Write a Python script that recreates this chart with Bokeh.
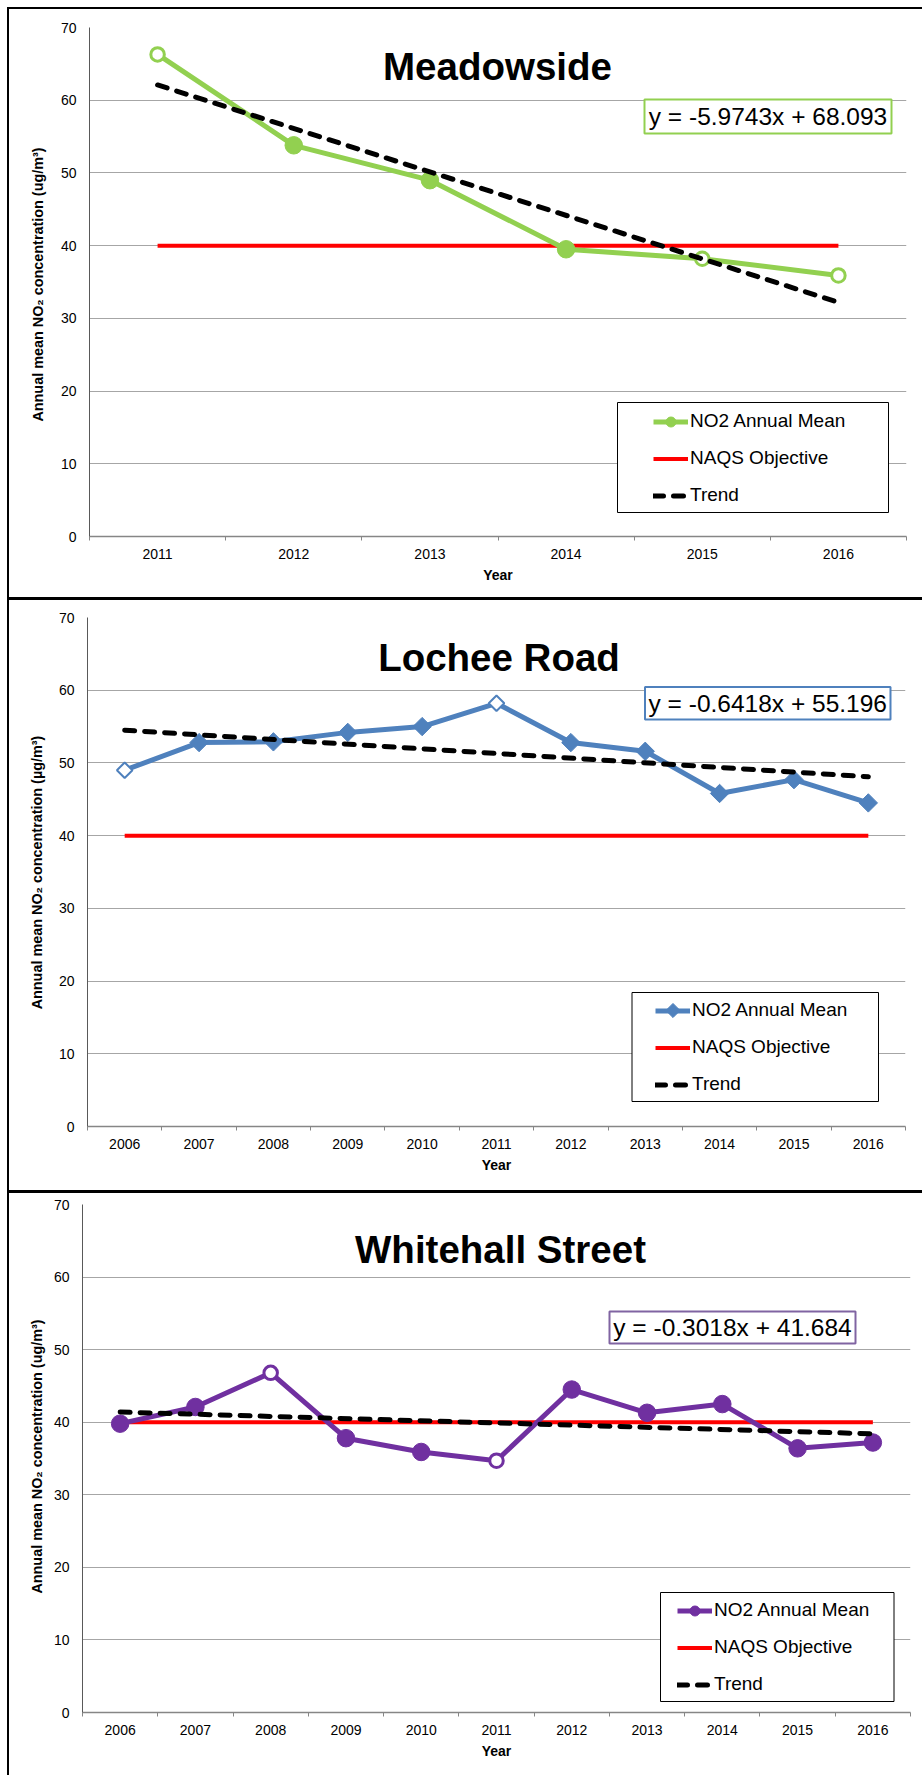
import math
from bokeh.plotting import figure
from bokeh.models import (Range1d, FixedTicker, Label, BoxAnnotation, Legend,
                          LegendItem, Div)
from bokeh.layouts import column, row
from bokeh.embed import file_html
from bokeh.resources import INLINE

FONT = "Liberation Sans"

# ---------------- data ----------------
y_ticks = [0, 10, 20, 30, 40, 50, 60, 70]
naqs_objective = 40

meadowside_years = ["2011", "2012", "2013", "2014", "2015", "2016"]
meadowside_no2 = [66.3, 53.8, 49.0, 39.5, 38.2, 35.9]
meadowside_hollow = [True, False, False, False, True, True]
meadowside_trend = [62.1, 32.2]          # trend value at first / last year
meadowside_eq = "y = -5.9743x + 68.093"

lochee_years = ["2006", "2007", "2008", "2009", "2010", "2011",
                "2012", "2013", "2014", "2015", "2016"]
lochee_no2 = [49.0, 52.8, 52.9, 54.2, 55.0, 58.2, 52.8, 51.6, 45.8, 47.7, 44.5]
lochee_hollow = [True, False, False, False, False, True,
                 False, False, False, False, False]
lochee_trend = [54.5, 48.1]
lochee_eq = "y = -0.6418x + 55.196"

whitehall_years = ["2006", "2007", "2008", "2009", "2010", "2011",
                   "2012", "2013", "2014", "2015", "2016"]
whitehall_no2 = [39.8, 42.1, 46.8, 37.8, 35.9, 34.7, 44.5, 41.3, 42.5, 36.4, 37.2]
whitehall_hollow = [False, False, True, False, False, True,
                    False, False, False, False, False]
whitehall_trend = [41.4, 38.4]
whitehall_eq = "y = -0.3018x + 41.684"

TOTAL_W = 913
CLEFT = 9      # page x of the left edge of the panels
STRIP = 40     # width of the strip carrying the rotated y-axis title
W = TOTAL_W - STRIP
MLEFT = CLEFT + STRIP   # page x of the main figure's left edge


def make_strip(ylabel, cfg):
    # the strip's frame is aligned with the main plot's frame inside the row,
    # so its y range is expressed in page pixels of that frame (top..bottom)
    H = cfg["height"]
    fl, fr, ft, fb = cfg["frame"]
    s = figure(width=STRIP, height=H, x_range=Range1d(CLEFT, CLEFT + STRIP),
               y_range=Range1d(fb, ft), x_axis_type=None, y_axis_type=None,
               min_border=0, toolbar_location=None, output_backend="svg")
    s.outline_line_color = None
    s.background_fill_color = "white"
    s.border_fill_color = "white"
    yx, yc = cfg["ylabel_center"]
    s.add_layout(Label(x=yx, y=yc, text=ylabel,
                       angle=math.pi / 2, text_font=FONT, text_font_style="bold",
                       text_font_size="14.4px", text_align="center",
                       text_baseline="middle", text_color="black"))
    return s


def make_panel(title, years, no2, hollow, trend, eq, color, eq_color, marker, cfg):
    n = len(years)
    xs = list(range(1, n + 1))
    fl, fr, ft, fb = cfg["frame"]
    ctop = cfg["canvas_top"]
    H = cfg["height"]
    p = figure(width=W, height=H, x_range=Range1d(0.5, n + 0.5),
               y_range=Range1d(0, 70), output_backend="svg",
               toolbar_location=None,
               min_border_left=int(round(fl - MLEFT)),
               min_border_right=int(round(W - (fr - MLEFT))),
               min_border_top=int(round(ft - ctop)),
               min_border_bottom=int(round(H - (fb - ctop))))
    p.outline_line_color = None
    p.background_fill_color = "white"
    p.border_fill_color = "white"

    def dx(px):
        return 0.5 + (px - fl) / (fr - fl) * n

    def dy(py):
        return (fb - py) / (fb - ft) * 70

    # axes
    xa = p.xaxis[0]
    xa.ticker = FixedTicker(ticks=xs, minor_ticks=[i + 0.5 for i in range(0, n + 1)])
    xa.major_label_overrides = {x: yv for x, yv in zip(xs, years)}
    xa.major_tick_out = 0
    xa.major_tick_in = 0
    xa.minor_tick_out = 4
    xa.minor_tick_in = 0
    xa.minor_tick_line_color = "#868686"
    xa.axis_line_color = "#868686"
    xa.axis_line_width = 1.5
    xa.major_label_text_font = FONT
    xa.major_label_text_font_size = "14px"
    xa.major_label_text_color = "black"
    xa.major_label_standoff = 8
    xa.axis_label = "Year"
    xa.axis_label_text_font = FONT
    xa.axis_label_text_font_style = "bold"
    xa.axis_label_text_font_size = "14px"
    xa.axis_label_text_color = "black"
    xa.axis_label_standoff = 5

    ya = p.yaxis[0]
    ya.ticker = FixedTicker(ticks=y_ticks)
    ya.major_tick_out = 0
    ya.major_tick_in = 0
    ya.minor_tick_out = 0
    ya.minor_tick_in = 0
    ya.axis_line_color = "#595959"
    ya.axis_line_width = 1
    ya.major_label_text_font = FONT
    ya.major_label_text_font_size = "14px"
    ya.major_label_text_color = "black"
    ya.major_label_standoff = 13

    p.xgrid.visible = False
    p.ygrid.ticker = FixedTicker(ticks=y_ticks)
    p.ygrid.grid_line_color = "#A6A6A6"
    p.ygrid.grid_line_width = 1

    # NAQS objective
    red_r = p.line([xs[0], xs[-1]], [naqs_objective, naqs_objective],
                   line_color="#FF0000", line_width=4)
    # NO2 series
    line_r = p.line(xs, no2, line_color=color, line_width=5)
    fx = [x for x, h in zip(xs, hollow) if not h]
    fy = [v for v, h in zip(no2, hollow) if not h]
    hx = [x for x, h in zip(xs, hollow) if h]
    hy = [v for v, h in zip(no2, hollow) if h]
    if marker == "circle":
        filled_r = p.scatter(fx, fy, marker="circle", size=17.5, fill_color=color,
                             line_color=color, line_width=1)
        p.scatter(hx, hy, marker="circle", size=13.5, fill_color="white",
                  line_color=color, line_width=3)
    else:
        filled_r = p.scatter(fx, fy, marker="square", angle=math.pi / 4, size=13,
                             fill_color=color, line_color=color, line_width=1)
        p.scatter(hx, hy, marker="square", angle=math.pi / 4, size=11,
                  fill_color="white", line_color=color, line_width=2)
    # trend
    trend_r = p.line([xs[0], xs[-1]], trend, line_color="black", line_width=5,
                     line_dash="10 10", line_cap="round")

    # title
    tx, tb = cfg["title"]
    p.add_layout(Label(x=dx(tx), y=dy(tb), text=title, text_font=FONT,
                       text_font_style="bold", text_font_size="38.5px",
                       text_align="center", text_baseline="alphabetic",
                       text_color="black"))

    # equation box
    el, er, et, eb = cfg["eq_box"]
    p.add_layout(BoxAnnotation(left=dx(el), right=dx(er), top=dy(et), bottom=dy(eb),
                               fill_color="white", fill_alpha=1,
                               line_color=eq_color, line_alpha=1, line_width=2))
    p.add_layout(Label(x=dx((el + er) / 2), y=dy((et + eb) / 2), text=eq,
                       text_font=FONT, text_font_size="24.5px",
                       text_align="center", text_baseline="middle",
                       text_color="black"))

    # legend box
    ll, lr, lt, lb = cfg["leg_box"]
    p.add_layout(BoxAnnotation(left=dx(ll), right=dx(lr), top=dy(lt), bottom=dy(lb),
                               fill_color="white", fill_alpha=1,
                               line_color="black", line_alpha=1, line_width=1))
    row_h, spacing, gw = 25, 12, 35
    leg_h = 3 * row_h + 2 * spacing
    leg_top = cfg["leg_row1"] - row_h / 2
    lx = cfg["leg_glyph_x"] - fl
    ly = fb - (leg_top + leg_h)
    first_renderers = [line_r, filled_r] if marker == "circle" else [line_r]
    legend = Legend(items=[
        LegendItem(label="NO2 Annual Mean", renderers=first_renderers),
        LegendItem(label="NAQS Objective", renderers=[red_r]),
        LegendItem(label="Trend", renderers=[trend_r]),
    ], location=(lx, ly), orientation="vertical", padding=0, margin=0,
        spacing=spacing, glyph_width=gw, glyph_height=row_h, label_height=row_h,
        label_standoff=2, label_text_font=FONT, label_text_font_size="19px",
        label_text_color="black", border_line_alpha=0, background_fill_alpha=0)
    p.add_layout(legend)
    if marker != "circle":
        # diamond legend symbol (legend glyphs ignore marker rotation)
        p.scatter([dx(cfg["leg_glyph_x"] + gw / 2)], [dy(cfg["leg_row1"])],
                  marker="square", angle=math.pi / 4, size=10, fill_color=color,
                  line_color=color, line_width=1, level="overlay")
    return p


cfg1 = dict(canvas_top=9, height=588, frame=(89, 906, 27, 536),
            title=(497, 66), eq_box=(644, 891, 99, 133),
            leg_box=(617, 888, 402, 512), leg_glyph_x=653, leg_row1=421,
            ylabel_center=(37, 284))
cfg2 = dict(canvas_top=600, height=590, frame=(87, 905, 617, 1126),
            title=(498.5, 657), eq_box=(644.5, 890, 686.5, 719),
            leg_box=(631.5, 878, 992, 1101), leg_glyph_x=655, leg_row1=1010,
            ylabel_center=(36.5, 872))
cfg3 = dict(canvas_top=1193, height=582, frame=(82, 910, 1204, 1712),
            title=(500, 1249), eq_box=(609, 855, 1311, 1343),
            leg_box=(660, 893.5, 1592, 1701), leg_glyph_x=677, leg_row1=1610,
            ylabel_center=(36.5, 1456))

label_ug = "Annual mean NO\u2082 concentration (ug/m\u00b3)"
label_mu = "Annual mean NO\u2082 concentration (\u00b5g/m\u00b3)"

p1 = make_panel("Meadowside", meadowside_years, meadowside_no2, meadowside_hollow,
                meadowside_trend, meadowside_eq, "#92D050", "#92D050", "circle", cfg1)
p2 = make_panel("Lochee Road", lochee_years, lochee_no2, lochee_hollow,
                lochee_trend, lochee_eq, "#4F81BD", "#4F81BD", "diamond", cfg2)
p3 = make_panel("Whitehall Street", whitehall_years, whitehall_no2, whitehall_hollow,
                whitehall_trend, whitehall_eq, "#7030A0", "#8064A2", "circle", cfg3)

s1 = make_strip(label_ug, cfg1)
s2 = make_strip(label_mu, cfg2)
s3 = make_strip(label_ug, cfg3)


def bar(w, h):
    return Div(text="", width=w, height=h, margin=0,
               styles={"background-color": "black"})


total_h = 2 + 588 + 3 + 590 + 3 + 582
layout = row(bar(2, total_h),
             column(bar(TOTAL_W, 2),
                    row(s1, p1, spacing=0),
                    bar(TOTAL_W, 3),
                    row(s2, p2, spacing=0),
                    bar(TOTAL_W, 3),
                    row(s3, p3, spacing=0),
                    spacing=0),
             spacing=0, margin=(7, 0, 0, 7))

open("out.html", "w").write(file_html(layout, INLINE))
